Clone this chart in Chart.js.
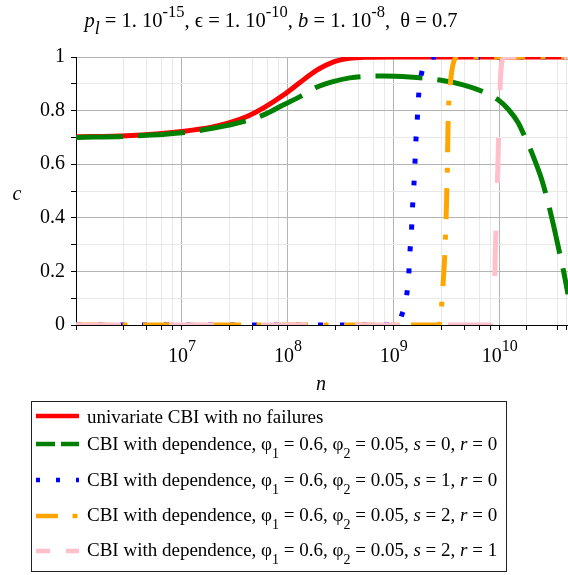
<!DOCTYPE html>
<html><head><meta charset="utf-8">
<script src="https://cdn.jsdelivr.net/npm/chart.js@4/dist/chart.umd.min.js"></script>
<style>html,body{margin:0;padding:0;background:#fff;}canvas{display:block;}</style>
</head><body>
<canvas id="c" width="568" height="575"></canvas>
<script>
// ---------- text ----------
const titleText = '*p_{l}* = 1. 10^{-15}, ϵ = 1. 10^{-10}, *b* = 1. 10^{-8},  θ = 0.7';
const seriesNames = [
  'univariate CBI with no failures',
  'CBI with dependence, φ_{1} = 0.6, φ_{2} = 0.05, *s* = 0, *r* = 0',
  'CBI with dependence, φ_{1} = 0.6, φ_{2} = 0.05, *s* = 1, *r* = 0',
  'CBI with dependence, φ_{1} = 0.6, φ_{2} = 0.05, *s* = 2, *r* = 0',
  'CBI with dependence, φ_{1} = 0.6, φ_{2} = 0.05, *s* = 2, *r* = 1'
];
const xAxisLabel = 'n';
const yAxisLabel = 'c';

// ---------- ticks ----------
const xMajorTicks = [1e7, 1e8, 1e9, 1e10];
const xTickExponents = ['7', '8', '9', '10'];
const xMinorTicks = [1e6, 2.8e6, 4.6e6, 6.4e6, 8.2e6,
  2.8e7, 4.6e7, 6.4e7, 8.2e7,
  2.8e8, 4.6e8, 6.4e8, 8.2e8,
  2.8e9, 4.6e9, 6.4e9, 8.2e9,
  1.8e10, 3.5e10, 4.3e10];
const yTickLabels = ['0', '0.2', '0.4', '0.6', '0.8', '1'];

// ---------- data ----------
const redN = [1e6, 3e6, 1e7, 2e7, 4e7, 6e7, 9e7, 1.3e8, 1.86e8, 2.7e8, 3.8e8, 5.5e8, 1e9, 4.4e10];
const redC = [0.702, 0.706, 0.722, 0.740, 0.776, 0.812, 0.857, 0.905, 0.950, 0.982, 0.995, 0.999, 1, 1];

const greenN = [1e6, 3e6, 1e7, 2e7, 3.8e7, 5.9e7, 9e7, 1.3e8, 1.86e8, 2.67e8, 3.84e8, 5e8, 8e8, 1.4e9, 2.7e9, 4.5e9, 6.9e9, 9.5e9, 1.2e10, 1.49e10, 1.71e10, 2.04e10, 2.45e10, 2.8e10, 3.2e10, 3.65e10, 4e10, 4.4e10];
const greenC = [0.700, 0.704, 0.717, 0.735, 0.759, 0.784, 0.821, 0.852, 0.887, 0.908, 0.922, 0.927, 0.929, 0.925, 0.914, 0.896, 0.871, 0.842, 0.805, 0.755, 0.705, 0.635, 0.550, 0.470, 0.375, 0.272, 0.200, 0.115];

const blueN = [1e6, 1.0e9, 1.1e9, 1.18e9, 1.32e9, 1.385e9, 1.42e9, 1.47e9, 1.5e9, 1.545e9, 1.58e9, 1.61e9, 1.66e9, 1.7e9, 1.79e9, 1.9e9, 2.09e9, 2.5e9, 4.4e10];
const blueC = [0, 0, 0.008, 0.034, 0.11, 0.195, 0.275, 0.36, 0.44, 0.52, 0.60, 0.68, 0.76, 0.84, 0.92, 0.965, 0.993, 1, 1];

const orangeN = [1e6, 2.6e9, 2.72e9, 2.83e9, 2.92e9, 3.03e9, 3.14e9, 3.21e9, 3.25e9, 3.37e9, 3.5e9, 3.63e9, 3.9e9, 4.4e10];
const orangeC = [0, 0, 0.01, 0.08, 0.16, 0.27, 0.455, 0.625, 0.76, 0.875, 0.94, 0.975, 1, 1];

const pinkN = [1e6, 8.2e9, 8.5e9, 8.7e9, 8.9e9, 9.1e9, 9.37e9, 9.64e9, 9.9e9, 1.016e10, 1.045e10, 1.09e10, 1.17e10, 4.4e10];
const pinkC = [0, 0, 0.005, 0.02, 0.12, 0.3, 0.45, 0.63, 0.8, 0.93, 0.98, 0.997, 1, 1];

// ---------- styles ----------
const FONT = '"Liberation Serif", "Times New Roman", serif';
const colors = ['#ff0000', '#008000', '#0000ff', '#ffa500', '#ffc0cb'];
const plotDash = [[], [47, 15], [5, 17], [31, 15.5, 5, 15.5], [45, 48]];
const legendDash = [[], [19, 6], [4, 16], [22, 14.5, 5, 20], [14, 16]];

const toPts = (N, C) => N.map((n, i) => ({ x: n, y: C[i] }));
const seriesData = [toPts(redN, redC), toPts(greenN, greenC), toPts(blueN, blueC), toPts(orangeN, orangeC), toPts(pinkN, pinkC)];

function parseRich(s) {
  const segs = []; let it = false, mode = 'n', buf = '';
  const flush = () => { if (buf) { segs.push({ t: buf, it, mode }); buf = ''; } };
  for (let i = 0; i < s.length; i++) {
    const ch = s[i];
    if (ch === '*') { flush(); it = !it; }
    else if ((ch === '_' || ch === '^') && s[i + 1] === '{') { flush(); mode = ch === '_' ? 'sub' : 'sup'; i++; }
    else if (ch === '}' && mode !== 'n') { flush(); mode = 'n'; }
    else buf += ch;
  }
  flush();
  return segs;
}
function drawRich(ctx, s, x, y, o) {
  const segs = parseRich(s);
  const fontFor = sg => (sg.it ? 'italic ' : '') + (sg.mode === 'sub' ? o.subSize : sg.mode === 'sup' ? o.supSize : o.size) + 'px ' + FONT;
  let w = 0;
  segs.forEach(sg => { ctx.font = fontFor(sg); sg.w = ctx.measureText(sg.t).width; w += sg.w; });
  let cx = o.align === 'center' ? x - w / 2 : x;
  ctx.textAlign = 'left'; ctx.textBaseline = 'alphabetic'; ctx.fillStyle = '#000';
  segs.forEach(sg => {
    ctx.font = fontFor(sg);
    const dy = sg.mode === 'sub' ? o.subDy : sg.mode === 'sup' ? -o.supDy : 0;
    ctx.fillText(sg.t, cx, y + dy);
    cx += sg.w;
  });
  return w;
}

const decorPlugin = {
  id: 'decor',
  afterDraw(chart) {
    const ctx = chart.ctx;
    ctx.save();
    // title
    drawRich(ctx, titleText, 271, 27, { size: 20.5, subSize: 18, supSize: 16.5, subDy: 7, supDy: 10, align: 'center' });
    // x tick labels
    const xs = chart.scales.x;
    xMajorTicks.forEach((v, i) => {
      const px = xs.getPixelForValue(v);
      drawRich(ctx, '10^{' + xTickExponents[i] + '}', px, 362, { size: 20, subSize: 14, supSize: 16, subDy: 6, supDy: 11, align: 'center' });
    });
    // axis titles
    ctx.fillStyle = '#000';
    ctx.font = 'italic 20px ' + FONT;
    ctx.textAlign = 'center'; ctx.textBaseline = 'alphabetic';
    ctx.fillText(yAxisLabel, 17, 200);
    ctx.fillText(xAxisLabel, 321, 390);
    // legend box
    ctx.strokeStyle = '#222'; ctx.lineWidth = 1; ctx.setLineDash([]);
    ctx.strokeRect(31.5, 401.5, 475, 170);
    const baselines = [423, 450, 486, 521, 556];
    const lineYs = [416, 444, 480, 516, 551];
    seriesNames.forEach((name, i) => {
      ctx.beginPath();
      ctx.strokeStyle = colors[i]; ctx.lineWidth = 4.5; ctx.lineCap = 'butt';
      ctx.setLineDash(legendDash[i]);
      ctx.moveTo(36, lineYs[i]); ctx.lineTo(79, lineYs[i]); ctx.stroke();
      ctx.setLineDash([]);
      drawRich(ctx, name, 87, baselines[i], { size: 19, subSize: 14, supSize: 14, subDy: 8, supDy: 8, align: 'left' });
    });
    ctx.restore();
  }
};

const allXTicks = xMinorTicks.concat(xMajorTicks).sort((a, b) => a - b);

new Chart(document.getElementById('c').getContext('2d'), {
  type: 'line',
  data: {
    datasets: seriesNames.map((name, i) => ({
      label: name,
      data: seriesData[i],
      borderColor: colors[i],
      backgroundColor: colors[i],
      borderWidth: 5,
      borderDash: plotDash[i],
      borderCapStyle: 'butt',
      borderJoinStyle: 'round',
      cubicInterpolationMode: 'monotone',
      pointRadius: 0,
      fill: false,
      order: 5 - i
    }))
  },
  options: {
    responsive: false,
    animation: false,
    devicePixelRatio: 1,
    layout: { padding: { top: 57, left: 0, right: 0, bottom: 0 } },
    plugins: { legend: { display: false }, title: { display: false }, tooltip: { enabled: false } },
    scales: {
      x: {
        type: 'logarithmic', min: 1e6, max: 4.4e10, bounds: 'data',
        afterBuildTicks: s => { s.ticks = allXTicks.map(v => ({ value: v })); },
        afterFit: s => { s.height = 250; },
        ticks: { display: false },
        grid: {
          color: c => (c.tick && xMajorTicks.includes(c.tick.value)) ? '#b4b4b4' : '#e8e8e8',
          tickColor: '#000', tickLength: 5, lineWidth: 1
        },
        border: { color: '#000', width: 1 }
      },
      y: {
        type: 'linear', min: 0, max: 1,
        afterFit: s => { s.width = 76; },
        ticks: {
          stepSize: 0.1, autoSkip: false, padding: 6, color: '#000',
          font: { family: FONT, size: 20 },
          callback: v => { const k = Math.round(v * 10); return k % 2 ? '' : yTickLabels[k / 2]; }
        },
        grid: {
          color: c => (c.tick && Math.round(c.tick.value * 10) % 2 === 0) ? '#b4b4b4' : '#e8e8e8',
          tickColor: '#000', tickLength: 5, lineWidth: 1
        },
        border: { color: '#000', width: 1 }
      }
    }
  },
  plugins: [decorPlugin]
});
</script>
</body></html>
